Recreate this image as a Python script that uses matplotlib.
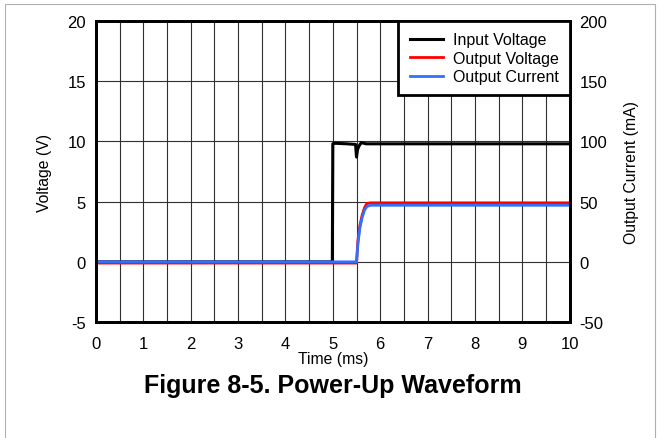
import matplotlib
matplotlib.use("Agg")
import matplotlib.pyplot as plt
from matplotlib.patches import Rectangle

plt.rcParams['font.family'] = ['Liberation Sans', 'DejaVu Sans']
plt.rcParams['axes.unicode_minus'] = False

# Time (ms) and traces
t_in = [0, 1, 2, 3, 4, 4.99, 5.0, 5.02, 5.3, 5.48, 5.5, 5.52, 5.55, 5.6, 5.7, 6, 7, 8, 9, 10]
v_in = [0, 0, 0, 0, 0, 0, 9.8, 9.85, 9.8, 9.75, 8.7, 9.3, 9.6, 9.9, 9.8, 9.8, 9.8, 9.8, 9.8, 9.8]

t_out = [0, 1, 2, 3, 4, 5, 5.5, 5.53, 5.57, 5.62, 5.67, 5.72, 5.8, 6, 7, 8, 9, 10]
v_out = [-0.1, -0.1, -0.1, -0.1, -0.1, -0.1, -0.1, 1.8, 3.0, 3.9, 4.5, 4.85, 4.9, 4.9, 4.9, 4.9, 4.9, 4.9]
i_out = [0, 0, 0, 0, 0, 0, 0, 15, 28, 37, 43, 46, 47, 47, 47, 47, 47, 47]

fig = plt.figure(figsize=(6.61, 4.39), dpi=100)
fig.patches.append(Rectangle((5 / 661, -0.01), 650 / 661, 1 - 5 / 439 + 0.01,
                             transform=fig.transFigure, fill=False,
                             edgecolor='#b0b0b0', linewidth=0.8))

ax = fig.add_axes([0.145, 0.264, 0.717, 0.686])
ax2 = ax.twinx()

ax.set_xlim(0, 10)
ax.set_ylim(-5, 20)
ax2.set_ylim(-50, 200)
ax.set_xticks(range(0, 11))
ax.set_xticks([x + 0.5 for x in range(10)], minor=True)
ax.set_yticks(range(-5, 21, 5))
ax2.set_yticks(range(-50, 201, 50))
ax.grid(True, which='both', axis='x', color='#303030', linewidth=0.8)
ax.grid(True, which='major', axis='y', color='#303030', linewidth=0.8)
ax.tick_params(axis='x', which='both', length=0, labelsize=12, pad=10)
ax.tick_params(axis='y', length=0, labelsize=12, pad=7)
ax2.tick_params(length=0, labelsize=12, pad=7)
for a in (ax, ax2):
    for s in a.spines.values():
        s.set_linewidth(2)

l1, = ax.plot(t_in, v_in, color='black', linewidth=2.2, label='Input Voltage')
l2, = ax.plot(t_out, v_out, color='#ff0000', linewidth=2, label='Output Voltage')
l3, = ax2.plot(t_out, i_out, color='#3070ff', linewidth=2, label='Output Current')

ax.set_xlabel('Time (ms)', fontsize=11.3, labelpad=0)
ax.set_ylabel('Voltage (V)', fontsize=11.3, labelpad=11)
ax2.set_ylabel('Output Current (mA)', fontsize=11.3, labelpad=12)

leg = ax2.legend(handles=[l1, l2, l3], loc='upper right', fontsize=11.5,
                 frameon=True, fancybox=False, borderaxespad=0,
                 handlelength=2.1, handletextpad=0.6, labelspacing=0.22,
                 borderpad=0.7)
leg.get_frame().set_edgecolor('black')
leg.get_frame().set_linewidth(2)
leg.get_frame().set_alpha(1)

fig.text(0.503, 0.12, 'Figure 8-5. Power-Up Waveform', ha='center', va='center',
         fontsize=18, fontweight='bold')

fig.savefig('out.png', dpi=100)
